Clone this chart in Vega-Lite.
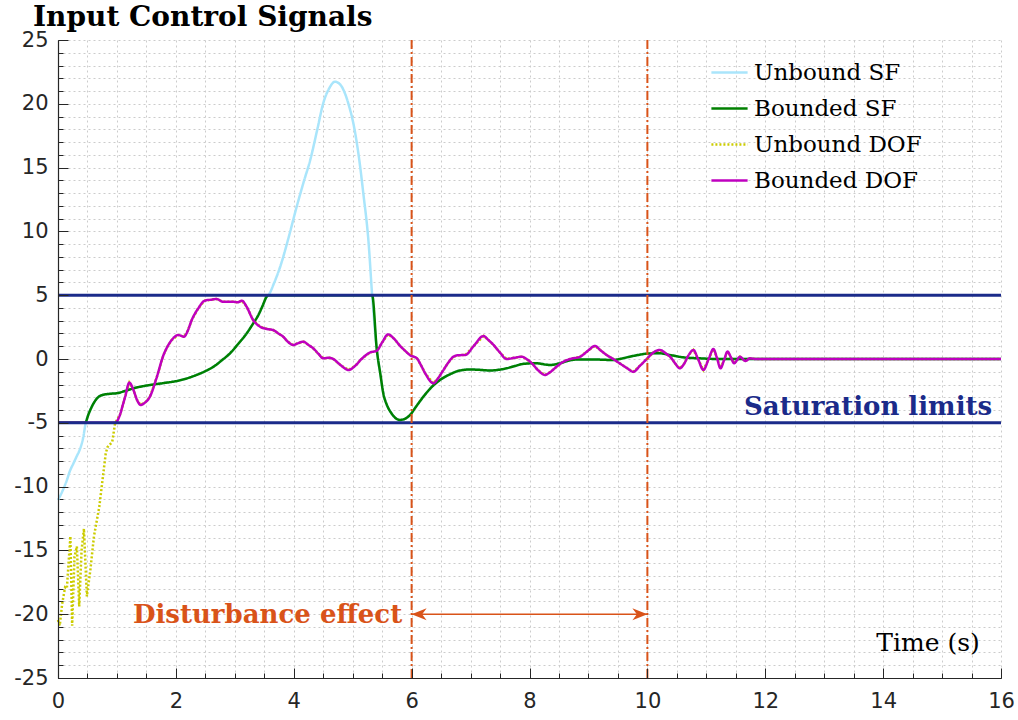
{
"$schema": "https://vega.github.io/schema/vega-lite/v6.json",
"width": 943, "height": 638,
"autosize": {"type": "none"},
"padding": {"left": 58, "top": 40, "right": 17, "bottom": 42},
"background": "white",
"config": {"view": {"stroke": null}},
"title": {"text": "Input Control Signals", "anchor": "start", "frame": "group", "dx": -25, "offset": -25, "baseline": "alphabetic", "font": "DejaVu Serif", "fontSize": 28, "fontWeight": "bold", "color": "black"},
"datasets": {
"sig": [
{"s":"Unbound SF","t":0,"u":-11.05},{"s":"Unbound SF","t":0.04,"u":-10.7},{"s":"Unbound SF","t":0.08,"u":-10.3},{"s":"Unbound SF","t":0.15,"u":-9.5},{"s":"Unbound SF","t":0.2,"u":-8.8},{"s":"Unbound SF","t":0.26,"u":-8.2},{"s":"Unbound SF","t":0.32,"u":-7.6},{"s":"Unbound SF","t":0.37,"u":-7.1},{"s":"Unbound SF","t":0.43,"u":-6.1},{"s":"Unbound SF","t":0.47,"u":-5.0},
{"s":"Unbound SF","t":0.52,"u":-4.3},{"s":"Unbound SF","t":0.6,"u":-3.5},{"s":"Unbound SF","t":0.68,"u":-3.0},{"s":"Unbound SF","t":0.77,"u":-2.8},{"s":"Unbound SF","t":0.9,"u":-2.72},{"s":"Unbound SF","t":1.0,"u":-2.68},{"s":"Unbound SF","t":1.14,"u":-2.5},{"s":"Unbound SF","t":1.28,"u":-2.3},{"s":"Unbound SF","t":1.42,"u":-2.15},{"s":"Unbound SF","t":1.56,"u":-2.04},{"s":"Unbound SF","t":1.8,"u":-1.88},{"s":"Unbound SF","t":2.04,"u":-1.7},{"s":"Unbound SF","t":2.2,"u":-1.5},{"s":"Unbound SF","t":2.35,"u":-1.25},{"s":"Unbound SF","t":2.5,"u":-0.95},{"s":"Unbound SF","t":2.64,"u":-0.6},{"s":"Unbound SF","t":2.78,"u":-0.1},{"s":"Unbound SF","t":2.92,"u":0.45},{"s":"Unbound SF","t":3.06,"u":1.2},{"s":"Unbound SF","t":3.2,"u":2.0},{"s":"Unbound SF","t":3.3,"u":2.7},{"s":"Unbound SF","t":3.4,"u":3.45},{"s":"Unbound SF","t":3.47,"u":4.15},{"s":"Unbound SF","t":3.54,"u":4.88},
{"s":"Unbound SF","t":3.57,"u":5.0},{"s":"Unbound SF","t":3.67,"u":6.0},{"s":"Unbound SF","t":3.77,"u":7.23},{"s":"Unbound SF","t":3.9,"u":9.3},{"s":"Unbound SF","t":4.05,"u":11.94},{"s":"Unbound SF","t":4.17,"u":13.9},{"s":"Unbound SF","t":4.28,"u":15.6},{"s":"Unbound SF","t":4.4,"u":18.0},{"s":"Unbound SF","t":4.5,"u":20.04},{"s":"Unbound SF","t":4.6,"u":21.2},{"s":"Unbound SF","t":4.7,"u":21.73},{"s":"Unbound SF","t":4.79,"u":21.5},{"s":"Unbound SF","t":4.87,"u":20.8},{"s":"Unbound SF","t":4.94,"u":19.8},{"s":"Unbound SF","t":5.01,"u":18.5},{"s":"Unbound SF","t":5.1,"u":16.0},{"s":"Unbound SF","t":5.18,"u":13.0},{"s":"Unbound SF","t":5.27,"u":9.1},{"s":"Unbound SF","t":5.33,"u":5.0},
{"s":"Unbound SF","t":5.41,"u":0.7},{"s":"Unbound SF","t":5.47,"u":-1.2},{"s":"Unbound SF","t":5.52,"u":-2.7},{"s":"Unbound SF","t":5.58,"u":-3.6},{"s":"Unbound SF","t":5.65,"u":-4.2},{"s":"Unbound SF","t":5.72,"u":-4.6},{"s":"Unbound SF","t":5.8,"u":-4.78},{"s":"Unbound SF","t":5.88,"u":-4.7},{"s":"Unbound SF","t":5.97,"u":-4.4},{"s":"Unbound SF","t":6.08,"u":-3.7},{"s":"Unbound SF","t":6.2,"u":-2.95},{"s":"Unbound SF","t":6.34,"u":-2.2},{"s":"Unbound SF","t":6.48,"u":-1.65},{"s":"Unbound SF","t":6.65,"u":-1.2},{"s":"Unbound SF","t":6.82,"u":-0.9},{"s":"Unbound SF","t":7.0,"u":-0.82},{"s":"Unbound SF","t":7.15,"u":-0.85},{"s":"Unbound SF","t":7.33,"u":-0.9},{"s":"Unbound SF","t":7.47,"u":-0.85},{"s":"Unbound SF","t":7.61,"u":-0.73},{"s":"Unbound SF","t":7.75,"u":-0.55},{"s":"Unbound SF","t":7.9,"u":-0.38},{"s":"Unbound SF","t":8.1,"u":-0.33},{"s":"Unbound SF","t":8.35,"u":-0.47},{"s":"Unbound SF","t":8.5,"u":-0.35},{"s":"Unbound SF","t":8.69,"u":-0.1},{"s":"Unbound SF","t":8.85,"u":-0.03},{"s":"Unbound SF","t":9.03,"u":-0.03},{"s":"Unbound SF","t":9.2,"u":-0.05},{"s":"Unbound SF","t":9.42,"u":-0.08},{"s":"Unbound SF","t":9.55,"u":0.02},{"s":"Unbound SF","t":9.7,"u":0.18},{"s":"Unbound SF","t":9.85,"u":0.32},{"s":"Unbound SF","t":9.99,"u":0.42},{"s":"Unbound SF","t":10.2,"u":0.45},{"s":"Unbound SF","t":10.4,"u":0.3},{"s":"Unbound SF","t":10.61,"u":0.13},{"s":"Unbound SF","t":10.9,"u":0.05},{"s":"Unbound SF","t":11.2,"u":0.0},{"s":"Unbound SF","t":16,"u":0.0},

{"s":"Bounded SF","t":0,"u":-5},{"s":"Bounded SF","t":0.46,"u":-5},
{"s":"Bounded SF","t":0.52,"u":-4.3},{"s":"Bounded SF","t":0.6,"u":-3.5},{"s":"Bounded SF","t":0.68,"u":-3.0},{"s":"Bounded SF","t":0.77,"u":-2.8},{"s":"Bounded SF","t":0.9,"u":-2.72},{"s":"Bounded SF","t":1.0,"u":-2.68},{"s":"Bounded SF","t":1.14,"u":-2.5},{"s":"Bounded SF","t":1.28,"u":-2.3},{"s":"Bounded SF","t":1.42,"u":-2.15},{"s":"Bounded SF","t":1.56,"u":-2.04},{"s":"Bounded SF","t":1.8,"u":-1.88},{"s":"Bounded SF","t":2.04,"u":-1.7},{"s":"Bounded SF","t":2.2,"u":-1.5},{"s":"Bounded SF","t":2.35,"u":-1.25},{"s":"Bounded SF","t":2.5,"u":-0.95},{"s":"Bounded SF","t":2.64,"u":-0.6},{"s":"Bounded SF","t":2.78,"u":-0.1},{"s":"Bounded SF","t":2.92,"u":0.45},{"s":"Bounded SF","t":3.06,"u":1.2},{"s":"Bounded SF","t":3.2,"u":2.0},{"s":"Bounded SF","t":3.3,"u":2.7},{"s":"Bounded SF","t":3.4,"u":3.45},{"s":"Bounded SF","t":3.47,"u":4.15},{"s":"Bounded SF","t":3.54,"u":4.88},{"s":"Bounded SF","t":3.57,"u":5.0},{"s":"Bounded SF","t":5.33,"u":5.0},
{"s":"Bounded SF","t":5.41,"u":0.7},{"s":"Bounded SF","t":5.47,"u":-1.2},{"s":"Bounded SF","t":5.52,"u":-2.7},{"s":"Bounded SF","t":5.58,"u":-3.6},{"s":"Bounded SF","t":5.65,"u":-4.2},{"s":"Bounded SF","t":5.72,"u":-4.6},{"s":"Bounded SF","t":5.8,"u":-4.78},{"s":"Bounded SF","t":5.88,"u":-4.7},{"s":"Bounded SF","t":5.97,"u":-4.4},{"s":"Bounded SF","t":6.08,"u":-3.7},{"s":"Bounded SF","t":6.2,"u":-2.95},{"s":"Bounded SF","t":6.34,"u":-2.2},{"s":"Bounded SF","t":6.48,"u":-1.65},{"s":"Bounded SF","t":6.65,"u":-1.2},{"s":"Bounded SF","t":6.82,"u":-0.9},{"s":"Bounded SF","t":7.0,"u":-0.82},{"s":"Bounded SF","t":7.15,"u":-0.85},{"s":"Bounded SF","t":7.33,"u":-0.9},{"s":"Bounded SF","t":7.47,"u":-0.85},{"s":"Bounded SF","t":7.61,"u":-0.73},{"s":"Bounded SF","t":7.75,"u":-0.55},{"s":"Bounded SF","t":7.9,"u":-0.38},{"s":"Bounded SF","t":8.1,"u":-0.33},{"s":"Bounded SF","t":8.35,"u":-0.47},{"s":"Bounded SF","t":8.5,"u":-0.35},{"s":"Bounded SF","t":8.69,"u":-0.1},{"s":"Bounded SF","t":8.85,"u":-0.03},{"s":"Bounded SF","t":9.03,"u":-0.03},{"s":"Bounded SF","t":9.2,"u":-0.05},{"s":"Bounded SF","t":9.42,"u":-0.08},{"s":"Bounded SF","t":9.55,"u":0.02},{"s":"Bounded SF","t":9.7,"u":0.18},{"s":"Bounded SF","t":9.85,"u":0.32},{"s":"Bounded SF","t":9.99,"u":0.42},{"s":"Bounded SF","t":10.2,"u":0.45},{"s":"Bounded SF","t":10.4,"u":0.3},{"s":"Bounded SF","t":10.61,"u":0.13},{"s":"Bounded SF","t":10.9,"u":0.05},{"s":"Bounded SF","t":11.2,"u":0.0},{"s":"Bounded SF","t":16,"u":0.0},

{"s":"Unbound DOF","t":0,"u":-20.45},{"s":"Unbound DOF","t":0.03,"u":-20.9},{"s":"Unbound DOF","t":0.07,"u":-19.2},{"s":"Unbound DOF","t":0.12,"u":-17.9},{"s":"Unbound DOF","t":0.15,"u":-18.0},{"s":"Unbound DOF","t":0.21,"u":-13.9},{"s":"Unbound DOF","t":0.24,"u":-20.9},{"s":"Unbound DOF","t":0.28,"u":-15.5},{"s":"Unbound DOF","t":0.32,"u":-14.7},{"s":"Unbound DOF","t":0.36,"u":-19.4},{"s":"Unbound DOF","t":0.4,"u":-15.0},{"s":"Unbound DOF","t":0.44,"u":-13.3},{"s":"Unbound DOF","t":0.49,"u":-18.6},{"s":"Unbound DOF","t":0.55,"u":-16.5},{"s":"Unbound DOF","t":0.61,"u":-13.9},{"s":"Unbound DOF","t":0.7,"u":-11.6},{"s":"Unbound DOF","t":0.81,"u":-7.4},{"s":"Unbound DOF","t":0.84,"u":-6.9},{"s":"Unbound DOF","t":0.92,"u":-6.5},{"s":"Unbound DOF","t":0.97,"u":-5.0},
{"s":"Unbound DOF","t":1.05,"u":-4.39},{"s":"Unbound DOF","t":1.1,"u":-3.6},{"s":"Unbound DOF","t":1.14,"u":-2.95},{"s":"Unbound DOF","t":1.21,"u":-1.85},{"s":"Unbound DOF","t":1.28,"u":-2.43},{"s":"Unbound DOF","t":1.34,"u":-3.2},{"s":"Unbound DOF","t":1.4,"u":-3.6},{"s":"Unbound DOF","t":1.48,"u":-3.4},{"s":"Unbound DOF","t":1.56,"u":-2.95},{"s":"Unbound DOF","t":1.67,"u":-1.51},{"s":"Unbound DOF","t":1.79,"u":0.31},{"s":"Unbound DOF","t":1.86,"u":1.0},{"s":"Unbound DOF","t":1.93,"u":1.49},{"s":"Unbound DOF","t":2.04,"u":1.88},{"s":"Unbound DOF","t":2.14,"u":1.75},{"s":"Unbound DOF","t":2.2,"u":2.2},{"s":"Unbound DOF","t":2.27,"u":3.06},{"s":"Unbound DOF","t":2.38,"u":3.97},{"s":"Unbound DOF","t":2.49,"u":4.57},{"s":"Unbound DOF","t":2.6,"u":4.65},{"s":"Unbound DOF","t":2.69,"u":4.7},{"s":"Unbound DOF","t":2.8,"u":4.49},{"s":"Unbound DOF","t":2.95,"u":4.49},{"s":"Unbound DOF","t":3.05,"u":4.45},{"s":"Unbound DOF","t":3.12,"u":4.57},{"s":"Unbound DOF","t":3.2,"u":4.1},{"s":"Unbound DOF","t":3.31,"u":3.06},{"s":"Unbound DOF","t":3.43,"u":2.53},{"s":"Unbound DOF","t":3.55,"u":2.35},{"s":"Unbound DOF","t":3.65,"u":2.27},{"s":"Unbound DOF","t":3.74,"u":2.0},{"s":"Unbound DOF","t":3.82,"u":1.75},{"s":"Unbound DOF","t":3.9,"u":1.35},{"s":"Unbound DOF","t":3.99,"u":1.1},{"s":"Unbound DOF","t":4.08,"u":1.25},{"s":"Unbound DOF","t":4.16,"u":1.36},{"s":"Unbound DOF","t":4.25,"u":1.1},{"s":"Unbound DOF","t":4.33,"u":0.84},{"s":"Unbound DOF","t":4.42,"u":0.4},{"s":"Unbound DOF","t":4.5,"u":0.05},{"s":"Unbound DOF","t":4.6,"u":0.1},{"s":"Unbound DOF","t":4.67,"u":0.0},{"s":"Unbound DOF","t":4.8,"u":-0.5},{"s":"Unbound DOF","t":4.93,"u":-0.86},{"s":"Unbound DOF","t":5.05,"u":-0.5},{"s":"Unbound DOF","t":5.15,"u":0.0},{"s":"Unbound DOF","t":5.29,"u":0.5},{"s":"Unbound DOF","t":5.41,"u":0.65},{"s":"Unbound DOF","t":5.5,"u":1.3},{"s":"Unbound DOF","t":5.6,"u":1.93},{"s":"Unbound DOF","t":5.7,"u":1.6},{"s":"Unbound DOF","t":5.8,"u":1.05},{"s":"Unbound DOF","t":5.9,"u":0.6},{"s":"Unbound DOF","t":5.97,"u":0.31},{"s":"Unbound DOF","t":6.09,"u":0.05},{"s":"Unbound DOF","t":6.16,"u":-0.5},{"s":"Unbound DOF","t":6.23,"u":-1.12},{"s":"Unbound DOF","t":6.37,"u":-1.9},{"s":"Unbound DOF","t":6.45,"u":-1.5},{"s":"Unbound DOF","t":6.54,"u":-0.86},{"s":"Unbound DOF","t":6.62,"u":-0.3},{"s":"Unbound DOF","t":6.71,"u":0.18},{"s":"Unbound DOF","t":6.8,"u":0.3},{"s":"Unbound DOF","t":6.91,"u":0.31},{"s":"Unbound DOF","t":7.05,"u":1.0},{"s":"Unbound DOF","t":7.22,"u":1.8},{"s":"Unbound DOF","t":7.3,"u":1.5},{"s":"Unbound DOF","t":7.39,"u":1.1},{"s":"Unbound DOF","t":7.5,"u":0.5},{"s":"Unbound DOF","t":7.61,"u":0.0},{"s":"Unbound DOF","t":7.75,"u":0.1},{"s":"Unbound DOF","t":7.87,"u":0.18},{"s":"Unbound DOF","t":7.95,"u":0.0},{"s":"Unbound DOF","t":8.04,"u":-0.34},{"s":"Unbound DOF","t":8.15,"u":-0.9},{"s":"Unbound DOF","t":8.26,"u":-1.25},{"s":"Unbound DOF","t":8.36,"u":-1.0},{"s":"Unbound DOF","t":8.46,"u":-0.6},{"s":"Unbound DOF","t":8.58,"u":-0.2},{"s":"Unbound DOF","t":8.69,"u":0.0},{"s":"Unbound DOF","t":8.86,"u":0.18},{"s":"Unbound DOF","t":8.98,"u":0.6},{"s":"Unbound DOF","t":9.11,"u":1.02},{"s":"Unbound DOF","t":9.2,"u":0.7},{"s":"Unbound DOF","t":9.31,"u":0.31},{"s":"Unbound DOF","t":9.42,"u":0.0},{"s":"Unbound DOF","t":9.53,"u":-0.34},{"s":"Unbound DOF","t":9.65,"u":-0.7},{"s":"Unbound DOF","t":9.76,"u":-1.0},{"s":"Unbound DOF","t":9.88,"u":-0.5},{"s":"Unbound DOF","t":9.99,"u":0.0},{"s":"Unbound DOF","t":10.1,"u":0.5},{"s":"Unbound DOF","t":10.21,"u":0.71},{"s":"Unbound DOF","t":10.31,"u":0.45},{"s":"Unbound DOF","t":10.41,"u":0.05},{"s":"Unbound DOF","t":10.48,"u":-0.4},{"s":"Unbound DOF","t":10.55,"u":-0.73},{"s":"Unbound DOF","t":10.62,"u":-0.4},{"s":"Unbound DOF","t":10.7,"u":0.3},{"s":"Unbound DOF","t":10.78,"u":0.71},{"s":"Unbound DOF","t":10.86,"u":0.0},{"s":"Unbound DOF","t":10.95,"u":-0.86},{"s":"Unbound DOF","t":11.04,"u":0.0},{"s":"Unbound DOF","t":11.12,"u":0.78},{"s":"Unbound DOF","t":11.18,"u":0.1},{"s":"Unbound DOF","t":11.24,"u":-0.73},{"s":"Unbound DOF","t":11.3,"u":-0.1},{"s":"Unbound DOF","t":11.36,"u":0.58},{"s":"Unbound DOF","t":11.42,"u":0.1},{"s":"Unbound DOF","t":11.47,"u":-0.34},{"s":"Unbound DOF","t":11.52,"u":-0.1},{"s":"Unbound DOF","t":11.57,"u":0.18},{"s":"Unbound DOF","t":11.62,"u":0.0},{"s":"Unbound DOF","t":11.66,"u":-0.16},{"s":"Unbound DOF","t":11.74,"u":0.05},{"s":"Unbound DOF","t":11.85,"u":0.0},{"s":"Unbound DOF","t":16,"u":0.0},

{"s":"Bounded DOF","t":0,"u":-5},{"s":"Bounded DOF","t":0.97,"u":-5},
{"s":"Bounded DOF","t":1.05,"u":-4.39},{"s":"Bounded DOF","t":1.1,"u":-3.6},{"s":"Bounded DOF","t":1.14,"u":-2.95},{"s":"Bounded DOF","t":1.21,"u":-1.85},{"s":"Bounded DOF","t":1.28,"u":-2.43},{"s":"Bounded DOF","t":1.34,"u":-3.2},{"s":"Bounded DOF","t":1.4,"u":-3.6},{"s":"Bounded DOF","t":1.48,"u":-3.4},{"s":"Bounded DOF","t":1.56,"u":-2.95},{"s":"Bounded DOF","t":1.67,"u":-1.51},{"s":"Bounded DOF","t":1.79,"u":0.31},{"s":"Bounded DOF","t":1.86,"u":1.0},{"s":"Bounded DOF","t":1.93,"u":1.49},{"s":"Bounded DOF","t":2.04,"u":1.88},{"s":"Bounded DOF","t":2.14,"u":1.75},{"s":"Bounded DOF","t":2.2,"u":2.2},{"s":"Bounded DOF","t":2.27,"u":3.06},{"s":"Bounded DOF","t":2.38,"u":3.97},{"s":"Bounded DOF","t":2.49,"u":4.57},{"s":"Bounded DOF","t":2.6,"u":4.65},{"s":"Bounded DOF","t":2.69,"u":4.7},{"s":"Bounded DOF","t":2.8,"u":4.49},{"s":"Bounded DOF","t":2.95,"u":4.49},{"s":"Bounded DOF","t":3.05,"u":4.45},{"s":"Bounded DOF","t":3.12,"u":4.57},{"s":"Bounded DOF","t":3.2,"u":4.1},{"s":"Bounded DOF","t":3.31,"u":3.06},{"s":"Bounded DOF","t":3.43,"u":2.53},{"s":"Bounded DOF","t":3.55,"u":2.35},{"s":"Bounded DOF","t":3.65,"u":2.27},{"s":"Bounded DOF","t":3.74,"u":2.0},{"s":"Bounded DOF","t":3.82,"u":1.75},{"s":"Bounded DOF","t":3.9,"u":1.35},{"s":"Bounded DOF","t":3.99,"u":1.1},{"s":"Bounded DOF","t":4.08,"u":1.25},{"s":"Bounded DOF","t":4.16,"u":1.36},{"s":"Bounded DOF","t":4.25,"u":1.1},{"s":"Bounded DOF","t":4.33,"u":0.84},{"s":"Bounded DOF","t":4.42,"u":0.4},{"s":"Bounded DOF","t":4.5,"u":0.05},{"s":"Bounded DOF","t":4.6,"u":0.1},{"s":"Bounded DOF","t":4.67,"u":0.0},{"s":"Bounded DOF","t":4.8,"u":-0.5},{"s":"Bounded DOF","t":4.93,"u":-0.86},{"s":"Bounded DOF","t":5.05,"u":-0.5},{"s":"Bounded DOF","t":5.15,"u":0.0},{"s":"Bounded DOF","t":5.29,"u":0.5},{"s":"Bounded DOF","t":5.41,"u":0.65},{"s":"Bounded DOF","t":5.5,"u":1.3},{"s":"Bounded DOF","t":5.6,"u":1.93},{"s":"Bounded DOF","t":5.7,"u":1.6},{"s":"Bounded DOF","t":5.8,"u":1.05},{"s":"Bounded DOF","t":5.9,"u":0.6},{"s":"Bounded DOF","t":5.97,"u":0.31},{"s":"Bounded DOF","t":6.09,"u":0.05},{"s":"Bounded DOF","t":6.16,"u":-0.5},{"s":"Bounded DOF","t":6.23,"u":-1.12},{"s":"Bounded DOF","t":6.37,"u":-1.9},{"s":"Bounded DOF","t":6.45,"u":-1.5},{"s":"Bounded DOF","t":6.54,"u":-0.86},{"s":"Bounded DOF","t":6.62,"u":-0.3},{"s":"Bounded DOF","t":6.71,"u":0.18},{"s":"Bounded DOF","t":6.8,"u":0.3},{"s":"Bounded DOF","t":6.91,"u":0.31},{"s":"Bounded DOF","t":7.05,"u":1.0},{"s":"Bounded DOF","t":7.22,"u":1.8},{"s":"Bounded DOF","t":7.3,"u":1.5},{"s":"Bounded DOF","t":7.39,"u":1.1},{"s":"Bounded DOF","t":7.5,"u":0.5},{"s":"Bounded DOF","t":7.61,"u":0.0},{"s":"Bounded DOF","t":7.75,"u":0.1},{"s":"Bounded DOF","t":7.87,"u":0.18},{"s":"Bounded DOF","t":7.95,"u":0.0},{"s":"Bounded DOF","t":8.04,"u":-0.34},{"s":"Bounded DOF","t":8.15,"u":-0.9},{"s":"Bounded DOF","t":8.26,"u":-1.25},{"s":"Bounded DOF","t":8.36,"u":-1.0},{"s":"Bounded DOF","t":8.46,"u":-0.6},{"s":"Bounded DOF","t":8.58,"u":-0.2},{"s":"Bounded DOF","t":8.69,"u":0.0},{"s":"Bounded DOF","t":8.86,"u":0.18},{"s":"Bounded DOF","t":8.98,"u":0.6},{"s":"Bounded DOF","t":9.11,"u":1.02},{"s":"Bounded DOF","t":9.2,"u":0.7},{"s":"Bounded DOF","t":9.31,"u":0.31},{"s":"Bounded DOF","t":9.42,"u":0.0},{"s":"Bounded DOF","t":9.53,"u":-0.34},{"s":"Bounded DOF","t":9.65,"u":-0.7},{"s":"Bounded DOF","t":9.76,"u":-1.0},{"s":"Bounded DOF","t":9.88,"u":-0.5},{"s":"Bounded DOF","t":9.99,"u":0.0},{"s":"Bounded DOF","t":10.1,"u":0.5},{"s":"Bounded DOF","t":10.21,"u":0.71},{"s":"Bounded DOF","t":10.31,"u":0.45},{"s":"Bounded DOF","t":10.41,"u":0.05},{"s":"Bounded DOF","t":10.48,"u":-0.4},{"s":"Bounded DOF","t":10.55,"u":-0.73},{"s":"Bounded DOF","t":10.62,"u":-0.4},{"s":"Bounded DOF","t":10.7,"u":0.3},{"s":"Bounded DOF","t":10.78,"u":0.71},{"s":"Bounded DOF","t":10.86,"u":0.0},{"s":"Bounded DOF","t":10.95,"u":-0.86},{"s":"Bounded DOF","t":11.04,"u":0.0},{"s":"Bounded DOF","t":11.12,"u":0.78},{"s":"Bounded DOF","t":11.18,"u":0.1},{"s":"Bounded DOF","t":11.24,"u":-0.73},{"s":"Bounded DOF","t":11.3,"u":-0.1},{"s":"Bounded DOF","t":11.36,"u":0.58},{"s":"Bounded DOF","t":11.42,"u":0.1},{"s":"Bounded DOF","t":11.47,"u":-0.34},{"s":"Bounded DOF","t":11.52,"u":-0.1},{"s":"Bounded DOF","t":11.57,"u":0.18},{"s":"Bounded DOF","t":11.62,"u":0.0},{"s":"Bounded DOF","t":11.66,"u":-0.16},{"s":"Bounded DOF","t":11.74,"u":0.05},{"s":"Bounded DOF","t":11.85,"u":0.0},{"s":"Bounded DOF","t":16,"u":0.0}
],
"limits": [{"u": 5}, {"u": -5}],
"events": [{"t": 6}, {"t": 10}],
"span": [{"t": 6, "t2": 10, "u": -20}],
"heads": [{"t": 6, "u": -20, "d": "L"}, {"t": 10, "u": -20, "d": "R"}],
"notes": [
{"k": "sat", "label": "Saturation limits", "t": 15.85, "u": -4.39},
{"k": "dist", "label": "Disturbance effect", "t": 5.84, "u": -20.66},
{"k": "time", "label": "Time (s)", "t": 15.64, "u": -22.9}
]
},
"resolve": {"axis": {"x": "independent", "y": "independent"}},
"layer": [
{
"data": {"name": "sig"},
"transform": [{"filter": "datum.s === 'Unbound SF'"}],
"mark": {"type": "line", "strokeWidth": 2.5, "interpolate": "monotone"},
"encoding": {
"x": {"field": "t", "type": "quantitative", "scale": {"domain": [0, 16], "nice": false, "zero": false},
"axis": {"orient": "bottom", "values": [0,0.5,1,1.5,2,2.5,3,3.5,4,4.5,5,5.5,6,6.5,7,7.5,8,8.5,9,9.5,10,10.5,11,11.5,12,12.5,13,13.5,14,14.5,15,15.5,16], "labels": false, "ticks": true, "tickSize": -5, "tickColor": "#262626", "tickWidth": 1, "grid": true, "gridColor": "#cccccc", "gridDash": [2, 3], "gridWidth": 1, "domain": false, "title": null}},
"y": {"field": "u", "type": "quantitative", "scale": {"domain": [-25, 25], "nice": false, "zero": false},
"axis": {"orient": "left", "values": [-25,-24,-23,-22,-21,-20,-19,-18,-17,-16,-15,-14,-13,-12,-11,-10,-9,-8,-7,-6,-5,-4,-3,-2,-1,0,1,2,3,4,5,6,7,8,9,10,11,12,13,14,15,16,17,18,19,20,21,22,23,24,25], "labels": false, "ticks": true, "tickSize": -5, "tickColor": "#262626", "tickWidth": 1, "grid": true, "gridColor": "#cccccc", "gridDash": [2, 3], "gridWidth": 1, "domain": false, "title": null}},
"color": {"field": "s", "type": "nominal",
"scale": {"domain": ["Unbound SF", "Bounded SF", "Unbound DOF", "Bounded DOF"], "range": ["#a9e5fb", "#008000", "#cccc00", "#bf00bf"]},
"legend": {"orient": "none", "legendX": 652, "legendY": 13, "title": null, "padding": 0, "labelFont": "DejaVu Serif", "labelFontSize": 23, "labelColor": "black", "labelLimit": 400, "labelOffset": 5, "symbolType": "stroke", "symbolSize": 1310, "symbolStrokeWidth": 2.5, "rowPadding": 4,
"encode": {"symbols": {"update": {"strokeDash": {"signal": "datum.value === 'Unbound SF' ? [8,5] : datum.value === 'Unbound DOF' ? [2,2] : [1,0]"}}}}}},
"strokeDash": {"field": "s", "type": "nominal", "scale": {"domain": ["Unbound SF", "Bounded SF", "Unbound DOF", "Bounded DOF"], "range": [[1, 0], [1, 0], [2, 2], [1, 0]]}, "legend": null}
}
},
{
"data": {"name": "sig"},
"transform": [{"filter": "datum.s === 'Unbound DOF'"}],
"mark": {"type": "line", "strokeWidth": 2.5},
"encoding": {
"x": {"field": "t", "type": "quantitative", "scale": {"domain": [0, 16], "nice": false, "zero": false},
"axis": {"orient": "bottom", "values": [0,2,4,6,8,10,12,14,16], "labelExpr": "datum.value + ''", "labelFlush": false, "labelOverlap": false, "tickSize": -10, "tickColor": "#262626", "tickWidth": 1, "grid": false, "domain": true, "domainColor": "#262626", "domainWidth": 1.2, "labelPadding": 22, "labelFont": "DejaVu Sans", "labelFontSize": 21, "labelColor": "#262626", "title": null, "zindex": 1}},
"y": {"field": "u", "type": "quantitative", "scale": {"domain": [-25, 25], "nice": false, "zero": false},
"axis": {"orient": "left", "values": [-25,-20,-15,-10,-5,0,5,10,15,20,25], "labelExpr": "datum.value + ''", "labelFlush": false, "labelOverlap": false, "tickSize": -10, "tickColor": "#262626", "tickWidth": 1, "grid": false, "domain": true, "domainColor": "#262626", "domainWidth": 1.2, "labelPadding": 20, "labelFont": "DejaVu Sans", "labelFontSize": 21, "labelColor": "#262626", "title": null, "zindex": 1}},
"color": {"field": "s", "type": "nominal", "scale": {"domain": ["Unbound SF", "Bounded SF", "Unbound DOF", "Bounded DOF"], "range": ["#a9e5fb", "#008000", "#cccc00", "#bf00bf"]}},
"strokeDash": {"field": "s", "type": "nominal", "scale": {"domain": ["Unbound SF", "Bounded SF", "Unbound DOF", "Bounded DOF"], "range": [[1, 0], [1, 0], [2, 2], [1, 0]]}, "legend": null}
}
},
{
"data": {"name": "sig"},
"transform": [{"filter": "datum.s === 'Bounded SF'"}],
"mark": {"type": "line", "strokeWidth": 2.5, "interpolate": "monotone"},
"encoding": {
"x": {"field": "t", "type": "quantitative", "axis": null},
"y": {"field": "u", "type": "quantitative", "axis": null},
"color": {"field": "s", "type": "nominal"},
"strokeDash": {"field": "s", "type": "nominal", "legend": null}
}
},
{
"data": {"name": "sig"},
"transform": [{"filter": "datum.s === 'Bounded DOF'"}],
"mark": {"type": "line", "strokeWidth": 2.5, "interpolate": "monotone"},
"encoding": {
"x": {"field": "t", "type": "quantitative", "axis": null},
"y": {"field": "u", "type": "quantitative", "axis": null},
"color": {"field": "s", "type": "nominal"},
"strokeDash": {"field": "s", "type": "nominal", "legend": null}
}
},
{
"data": {"name": "limits"},
"mark": {"type": "rule", "color": "#1b2b8a", "strokeWidth": 3},
"encoding": {"y": {"field": "u", "type": "quantitative", "axis": null}}
},
{
"data": {"name": "events"},
"mark": {"type": "rule", "color": "#d95319", "strokeWidth": 2, "strokeDash": [9, 3, 2, 3]},
"encoding": {"x": {"field": "t", "type": "quantitative", "axis": null}}
},
{
"data": {"name": "span"},
"mark": {"type": "rule", "color": "#d95319", "strokeWidth": 1.5},
"encoding": {
"x": {"field": "t", "type": "quantitative", "axis": null},
"x2": {"field": "t2"},
"y": {"field": "u", "type": "quantitative", "axis": null}
}
},
{
"data": {"name": "heads"},
"mark": {"type": "point", "filled": true, "opacity": 1, "color": "#d95319", "size": 225},
"encoding": {
"x": {"field": "t", "type": "quantitative", "axis": null},
"y": {"field": "u", "type": "quantitative", "axis": null},
"shape": {"field": "d", "type": "nominal", "scale": {"domain": ["L", "R"], "range": ["M0,0L2,-0.8L1.4,0L2,0.8Z", "M0,0L-2,-0.8L-1.4,0L-2,0.8Z"]}, "legend": null}
}
},
{
"data": {"name": "notes"},
"transform": [{"filter": "datum.k === 'sat'"}],
"mark": {"type": "text", "align": "right", "baseline": "alphabetic", "font": "DejaVu Serif", "fontSize": 26, "fontWeight": "bold", "color": "#1b2b8a"},
"encoding": {
"x": {"field": "t", "type": "quantitative", "axis": null},
"y": {"field": "u", "type": "quantitative", "axis": null},
"text": {"field": "label"}
}
},
{
"data": {"name": "notes"},
"transform": [{"filter": "datum.k === 'dist'"}],
"mark": {"type": "text", "align": "right", "baseline": "alphabetic", "font": "DejaVu Serif", "fontSize": 26, "fontWeight": "bold", "color": "#d95319"},
"encoding": {
"x": {"field": "t", "type": "quantitative", "axis": null},
"y": {"field": "u", "type": "quantitative", "axis": null},
"text": {"field": "label"}
}
},
{
"data": {"name": "notes"},
"transform": [{"filter": "datum.k === 'time'"}],
"mark": {"type": "text", "align": "right", "baseline": "alphabetic", "font": "DejaVu Serif", "fontSize": 25, "color": "black"},
"encoding": {
"x": {"field": "t", "type": "quantitative", "axis": null},
"y": {"field": "u", "type": "quantitative", "axis": null},
"text": {"field": "label"}
}
}
]
}
